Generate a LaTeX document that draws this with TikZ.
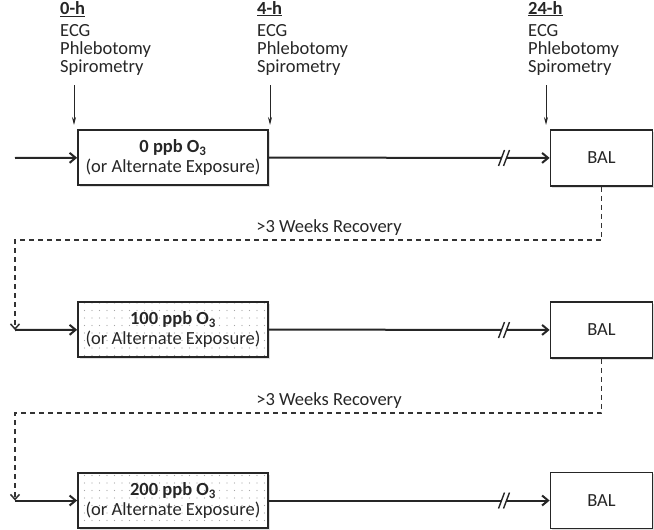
\documentclass[tikz,border=0pt]{standalone}
\usepackage{fontspec}
\setmainfont{Carlito}
\usetikzlibrary{arrows.meta, patterns.meta, shadows}

\tikzdeclarepattern{
  name=stipple,
  type=uncolored,
  bottom left={(-.5pt,-.5pt)},
  top right={(7.5pt,7.5pt)},
  tile size={(7.5pt,7.5pt)},
  code={\pgfpathcircle{\pgfqpoint{2pt}{2pt}}{.55pt}\pgfusepath{fill}}
}

\begin{document}
\begin{tikzpicture}[x=1pt, y=-1pt,
  every node/.style={font=\fontsize{18.5}{18}\selectfont, text=black!85},
  timelabel/.style={align=left, anchor=north west, inner sep=0pt},
  box/.style={draw=black!85, rectangle, line width=1.7pt, align=center, inner sep=0pt,
    drop shadow={opacity=.25, shadow xshift=1.5pt, shadow yshift=-1.5pt},
    preaction={fill=white}},
  expbox/.style={box, minimum width=190pt, minimum height=55pt},
  balbox/.style={box, minimum width=102pt, minimum height=56pt},
  dotted fill/.style={pattern=stipple, pattern color=black!35},
  flow/.style={-{Straight Barb[length=6pt, width=10pt]}, line width=2pt, draw=black!85},
  tick/.style={-{Stealth[length=8pt, width=4pt]}, line width=.9pt, draw=black!85},
  recov/.style={-{Straight Barb[length=5pt, width=9pt]}, line width=1.5pt, draw=black!80,
    dash pattern=on 5pt off 4pt}]

\useasboundingbox (0,0) rectangle (654,530);

% time points
\node[timelabel] (h0) at (60,1)
  {\textbf{\underline{0-h}}\\[4pt] ECG\\ Phlebotomy\\ Spirometry};
\node[timelabel] (h4) at (257,1)
  {\textbf{\underline{4-h}}\\[4pt] ECG\\ Phlebotomy\\ Spirometry};
\node[timelabel] (h24) at (528,1)
  {\textbf{\underline{24-h}}\\[4pt] ECG\\ Phlebotomy\\ Spirometry};

\coordinate (t0) at (74,125);
\coordinate (t4) at (270,125);
\coordinate (t24) at (546,125);

\draw[tick] (t0 |- h0.south) ++(0,10) -- (t0);
\draw[tick] (t4 |- h4.south) ++(0,10) -- (t4);
\draw[tick] (t24 |- h24.south) ++(0,10) -- (t24);

% exposures
\node[expbox] (exp1) at (173,157.5)
  {\textbf{0 ppb O\textsubscript{3}}\\[2pt](or Alternate Exposure)};
\node[expbox, dotted fill] (exp2) at (173,329.5)
  {\textbf{100 ppb O\textsubscript{3}}\\[2pt](or Alternate Exposure)};
\node[expbox, dotted fill] (exp3) at (173,500.5)
  {\textbf{200 ppb O\textsubscript{3}}\\[2pt](or Alternate Exposure)};

\node[balbox] (bal1) at (601.5,158)
  {BAL};
\node[balbox] (bal2) at (601.5,330)
  {BAL};
\node[balbox] (bal3) at (601.5,500.5)
  {BAL};

\coordinate (in1) at (15,158);
\coordinate (in2) at (15,330);
\coordinate (in3) at (15,500.5);

\draw[flow] (in1) -- (exp1);
\draw[flow] (in2) -- (exp2);
\draw[flow] (in3) -- (exp3);

\draw[flow] (exp1) -- (bal1);
\draw[flow] (exp2) -- (bal2);
\draw[flow] (exp3) -- (bal3);

% breaks in the time axis
\foreach \y in {158,330,500.5}{
  \draw[white, line width=4pt] (501,\y+8) -- (507,\y-8);
  \draw[black!85, line width=1.4pt] (498.5,\y+8) -- (504.5,\y-8);
  \draw[black!85, line width=1.4pt] (503.5,\y+8) -- (509.5,\y-8);
}

% recovery between sessions
\node[anchor=base] (rec1) at (329,232)
  {>3 Weeks Recovery};
\node[anchor=base] (rec2) at (329,405)
  {>3 Weeks Recovery};

\draw[recov] (bal1.south) -- ++(0,53) -| (in2);
\draw[recov] (bal2.south) -- ++(0,54) -| (in3);

\end{tikzpicture}
\end{document}
